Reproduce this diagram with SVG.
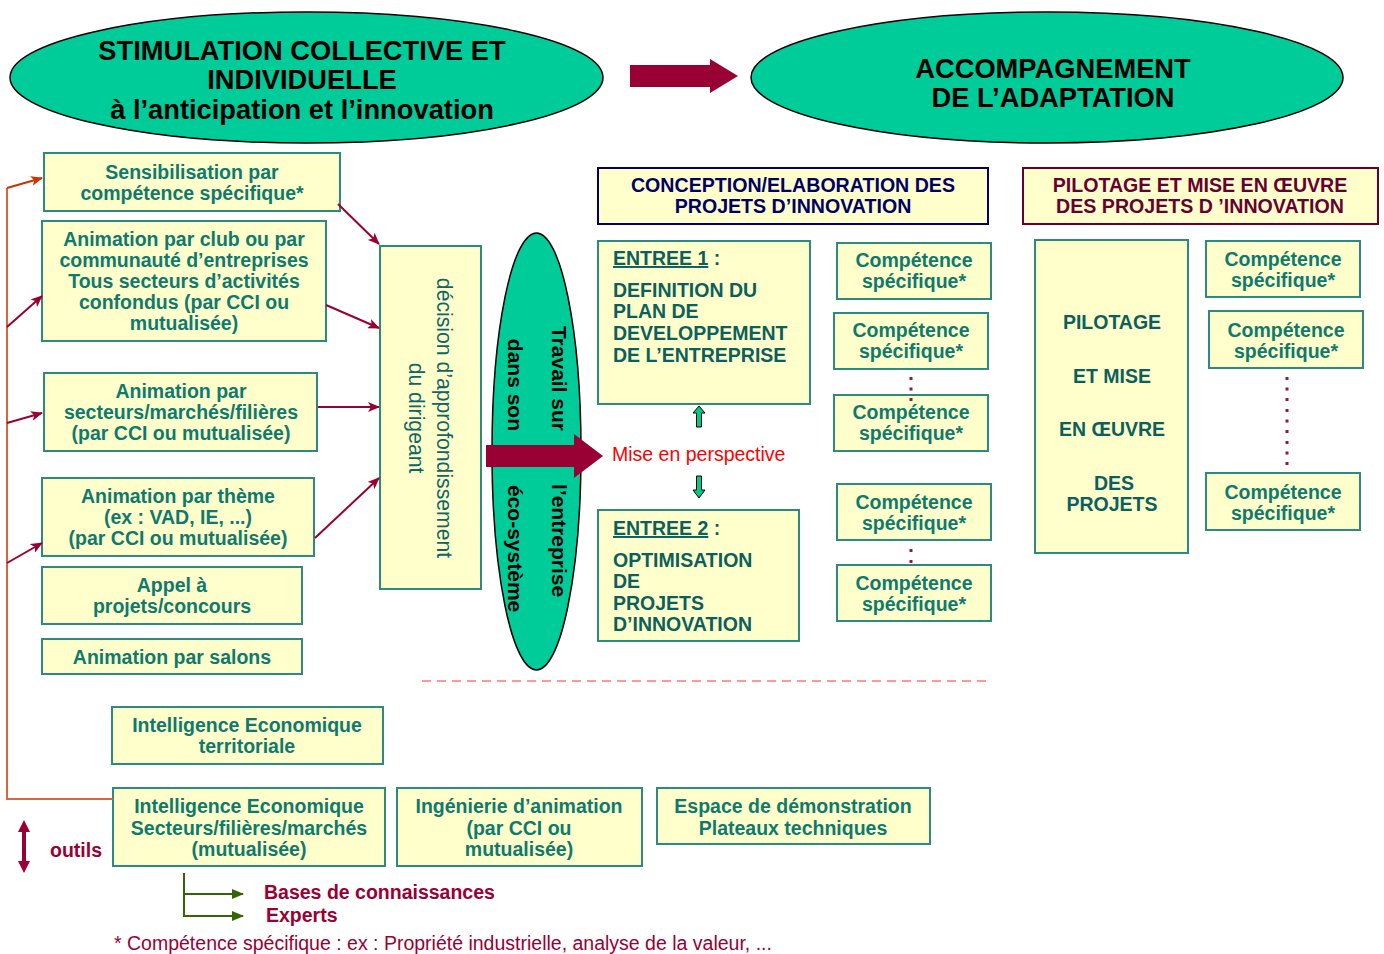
<svg xmlns="http://www.w3.org/2000/svg" width="1384" height="954" viewBox="0 0 1384 954">
<style>
text{font-family:"Liberation Sans",Arial,sans-serif}
.box{fill:#FFFFCC;stroke:#2E8A80;stroke-width:2}
.ell{fill:#00CC99;stroke:#000;stroke-width:1.5}
.title{font-weight:bold;font-size:27.3px;fill:#000;text-anchor:middle}
.t{font-weight:bold;font-size:19.5px;fill:#0E7A6E;text-anchor:middle}
.d{font-weight:bold;font-size:19.5px;fill:#0B5F5C}
.dm{font-weight:bold;font-size:19.5px;fill:#0B5F5C;text-anchor:middle}
.m{stroke:#990033;stroke-width:2;fill:none}
.o{stroke:#D9653B;stroke-width:2;fill:none}
.g{stroke:#336600;stroke-width:2;fill:none}
.dot{fill:#8B1A4A}
.tv{font-weight:bold;font-size:21px;fill:#000}
.hd{font-weight:bold;font-size:19.6px;text-anchor:middle}
</style>
<defs>
<marker id="am" viewBox="0 0 12 10" refX="11" refY="5" markerWidth="12" markerHeight="10" markerUnits="userSpaceOnUse" orient="auto"><path d="M0,0 L12,5 L0,10 L3,5 z" fill="#990033"/></marker>
<marker id="ao" viewBox="0 0 12 10" refX="11" refY="5" markerWidth="12" markerHeight="10" markerUnits="userSpaceOnUse" orient="auto"><path d="M0,0 L12,5 L0,10 L3,5 z" fill="#CC3300"/></marker>
<marker id="ag" viewBox="0 0 12 10" refX="11" refY="5" markerWidth="12" markerHeight="10" markerUnits="userSpaceOnUse" orient="auto"><path d="M0,0 L12,5 L0,10 z" fill="#336600"/></marker>
</defs>

<g id="stimulation">
<ellipse class="ell" cx="306.5" cy="77.5" rx="296.5" ry="65.5"/>
<text class="title" x="302" y="60">STIMULATION COLLECTIVE ET</text>
<text class="title" x="302" y="89">INDIVIDUELLE</text>
<text class="title" x="302" y="119">à l’anticipation et l’innovation</text>
</g>
<g id="accompagnement">
<ellipse class="ell" cx="1047" cy="77.5" rx="296" ry="65.5"/>
<text class="title" x="1053" y="78">ACCOMPAGNEMENT</text>
<text class="title" x="1053" y="107">DE L’ADAPTATION</text>
</g>
<g id="top-arrow">
<polygon points="630,65 710,65 710,59 738,76 710,93 710,87 630,87" fill="#990033"/>
</g>

<g id="sensibilisation">
<rect class="box" x="44" y="153" width="296" height="58"/>
<text class="t" x="192" y="179">Sensibilisation par</text>
<text class="t" x="192" y="200">compétence spécifique*</text>
</g>
<g id="club">
<rect class="box" x="42" y="221" width="284" height="120"/>
<text class="t" x="184" y="246">Animation par club ou par</text>
<text class="t" x="184" y="267">communauté d’entreprises</text>
<text class="t" x="184" y="288">Tous secteurs d’activités</text>
<text class="t" x="184" y="309">confondus (par CCI ou</text>
<text class="t" x="184" y="330">mutualisée)</text>
</g>
<g id="secteurs">
<rect class="box" x="44" y="373" width="273" height="78"/>
<text class="t" x="181" y="398">Animation par</text>
<text class="t" x="181" y="419">secteurs/marchés/filières</text>
<text class="t" x="181" y="440">(par CCI ou mutualisée)</text>
</g>
<g id="theme">
<rect class="box" x="42" y="478" width="272" height="78"/>
<text class="t" x="178" y="503">Animation par thème</text>
<text class="t" x="178" y="524">(ex : VAD, IE, ...)</text>
<text class="t" x="178" y="545">(par CCI ou mutualisée)</text>
</g>
<g id="appel">
<rect class="box" x="42" y="567" width="260" height="57"/>
<text class="t" x="172" y="592">Appel à</text>
<text class="t" x="172" y="613">projets/concours</text>
</g>
<g id="salons">
<rect class="box" x="42" y="639" width="260" height="35"/>
<text class="t" x="172" y="664">Animation par salons</text>
</g>

<g id="decision">
<rect class="box" x="380" y="246" width="101" height="343"/>
<text transform="translate(437,418) rotate(90)" text-anchor="middle" font-size="21.2" fill="#0E6666">décision d’approfondissement</text>
<text transform="translate(409,418) rotate(90)" text-anchor="middle" font-size="21.2" fill="#0E6666">du dirigeant</text>
</g>

<g id="travail">
<ellipse class="ell" cx="536.5" cy="451.5" rx="44.5" ry="218.5"/>
<text class="tv" transform="translate(552,431) rotate(90)" text-anchor="end">Travail sur</text>
<text class="tv" transform="translate(552,484) rotate(90)" text-anchor="start">l’entreprise</text>
<text class="tv" transform="translate(508,431) rotate(90)" text-anchor="end">dans son</text>
<text class="tv" transform="translate(508,485) rotate(90)" text-anchor="start">éco-système</text>
<polygon points="486,445 574,445 574,434 603,456 574,478 574,467 486,467" fill="#990033"/>
</g>

<g id="mise">
<text x="612" y="461" font-size="19.5" fill="#FF0000">Mise en perspective</text>
<polygon points="699,406 705,413 701.5,413 701.5,427 696.5,427 696.5,413 693,413" fill="#00CC88" stroke="#000" stroke-width="1"/>
<polygon points="696.5,476 701.5,476 701.5,490 705,490 699,498 693,490 696.5,490" fill="#00CC88" stroke="#000" stroke-width="1"/>
</g>

<g id="conception">
<rect x="598" y="168" width="390" height="56" fill="#FFFFCC" stroke="#000066" stroke-width="2"/>
<text class="hd" x="793" y="192" fill="#000066">CONCEPTION/ELABORATION DES</text>
<text class="hd" x="793" y="213" fill="#000066">PROJETS D’INNOVATION</text>
</g>

<g id="entree1">
<rect class="box" x="598" y="241" width="212" height="163"/>
<text class="d" x="613" y="265"><tspan text-decoration="underline">ENTREE 1</tspan> :</text>
<text class="d" x="613" y="297">DEFINITION DU</text>
<text class="d" x="613" y="318">PLAN DE</text>
<text class="d" x="613" y="340">DEVELOPPEMENT</text>
<text class="d" x="613" y="362">DE L’ENTREPRISE</text>
</g>
<g id="entree2">
<rect class="box" x="598" y="510" width="201" height="131"/>
<text class="d" x="613" y="535"><tspan text-decoration="underline">ENTREE 2</tspan> :</text>
<text class="d" x="613" y="567">OPTIMISATION</text>
<text class="d" x="613" y="588">DE</text>
<text class="d" x="613" y="610">PROJETS</text>
<text class="d" x="613" y="631">D’INNOVATION</text>
</g>

<g id="comp1">
<rect class="box" x="837" y="243" width="154" height="56"/>
<text class="t" x="914" y="267">Compétence</text>
<text class="t" x="914" y="288">spécifique*</text>
</g>
<g id="comp2">
<rect class="box" x="834" y="313" width="154" height="56"/>
<text class="t" x="911" y="337">Compétence</text>
<text class="t" x="911" y="358">spécifique*</text>
</g>
<g id="comp3">
<rect class="box" x="834" y="395" width="154" height="56"/>
<text class="t" x="911" y="419">Compétence</text>
<text class="t" x="911" y="440">spécifique*</text>
</g>
<g id="comp4">
<rect class="box" x="837" y="484" width="154" height="56"/>
<text class="t" x="914" y="509">Compétence</text>
<text class="t" x="914" y="530">spécifique*</text>
</g>
<g id="comp5">
<rect class="box" x="837" y="565" width="154" height="56"/>
<text class="t" x="914" y="590">Compétence</text>
<text class="t" x="914" y="611">spécifique*</text>
</g>
<g id="dots1">
<rect class="dot" x="909.5" y="377" width="3" height="3"/>
<rect class="dot" x="909.5" y="387.5" width="3" height="3"/>
<rect class="dot" x="909.5" y="398" width="3" height="3"/>
<rect class="dot" x="909.5" y="549" width="3" height="3"/>
<rect class="dot" x="909.5" y="560" width="3" height="3"/>
</g>

<g id="pilotage-header">
<rect x="1023" y="168" width="355" height="56" fill="#FFFFCC" stroke="#660033" stroke-width="2"/>
<text class="hd" x="1200" y="192" fill="#660033">PILOTAGE ET MISE EN ŒUVRE</text>
<text class="hd" x="1200" y="213" fill="#660033">DES PROJETS D ’INNOVATION</text>
</g>
<g id="pilotage">
<rect class="box" x="1035" y="240" width="153" height="313"/>
<text class="dm" x="1112" y="329">PILOTAGE</text>
<text class="dm" x="1112" y="383">ET MISE</text>
<text class="dm" x="1112" y="436">EN ŒUVRE</text>
<text class="dm" x="1114" y="490">DES</text>
<text class="dm" x="1112" y="511">PROJETS</text>
</g>
<g id="comp6">
<rect class="box" x="1206" y="241" width="154" height="56"/>
<text class="t" x="1283" y="266">Compétence</text>
<text class="t" x="1283" y="287">spécifique*</text>
</g>
<g id="comp7">
<rect class="box" x="1209" y="311" width="154" height="57"/>
<text class="t" x="1286" y="337">Compétence</text>
<text class="t" x="1286" y="358">spécifique*</text>
</g>
<g id="comp8">
<rect class="box" x="1206" y="473" width="154" height="57"/>
<text class="t" x="1283" y="499">Compétence</text>
<text class="t" x="1283" y="520">spécifique*</text>
</g>
<g id="dots2">
<rect class="dot" x="1285.5" y="377" width="3" height="3"/>
<rect class="dot" x="1285.5" y="387.5" width="3" height="3"/>
<rect class="dot" x="1285.5" y="398" width="3" height="3"/>
<rect class="dot" x="1285.5" y="409" width="3" height="3"/>
<rect class="dot" x="1285.5" y="419.5" width="3" height="3"/>
<rect class="dot" x="1285.5" y="430" width="3" height="3"/>
<rect class="dot" x="1285.5" y="441" width="3" height="3"/>
<rect class="dot" x="1285.5" y="451.5" width="3" height="3"/>
<rect class="dot" x="1285.5" y="462" width="3" height="3"/>
</g>

<g id="separator">
<line x1="422" y1="681" x2="988" y2="681" stroke="#FF3333" stroke-width="1.2" stroke-dasharray="9,6"/>
</g>

<g id="ie-territoriale">
<rect class="box" x="112" y="707" width="271" height="57"/>
<text class="t" x="247" y="732">Intelligence Economique</text>
<text class="t" x="247" y="753">territoriale</text>
</g>
<g id="ie-secteurs">
<rect class="box" x="113" y="788" width="272" height="78"/>
<text class="t" x="249" y="813">Intelligence Economique</text>
<text class="t" x="249" y="835">Secteurs/filières/marchés</text>
<text class="t" x="249" y="856">(mutualisée)</text>
</g>
<g id="ingenierie">
<rect class="box" x="397" y="788" width="245" height="78"/>
<text class="t" x="519" y="813">Ingénierie d’animation</text>
<text class="t" x="519" y="835">(par CCI ou</text>
<text class="t" x="519" y="856">mutualisée)</text>
</g>
<g id="espace">
<rect class="box" x="657" y="788" width="273" height="56"/>
<text class="t" x="793" y="813">Espace de démonstration</text>
<text class="t" x="793" y="835">Plateaux techniques</text>
</g>

<g id="outils">
<polygon points="24,820 30,832 26,832 26,861 30,861 24,873 18,861 22,861 22,832 18,832" fill="#990033"/>
<text x="50" y="857" font-weight="bold" font-size="19.5" fill="#990033">outils</text>
</g>

<g id="connectors">
<path class="o" d="M7,188 V799 H113"/>
<line x1="7" y1="188" x2="42" y2="178" stroke="#CC3300" stroke-width="2" marker-end="url(#ao)"/>
<line class="m" x1="7" y1="327" x2="42" y2="296" marker-end="url(#am)"/>
<line class="m" x1="7" y1="423" x2="42" y2="413" marker-end="url(#am)"/>
<line class="m" x1="7" y1="563" x2="42" y2="543" marker-end="url(#am)"/>
<line class="m" x1="338" y1="204" x2="379" y2="244" marker-end="url(#am)"/>
<line class="m" x1="326" y1="305" x2="379" y2="328" marker-end="url(#am)"/>
<line class="m" x1="318" y1="407" x2="379" y2="407" marker-end="url(#am)"/>
<line class="m" x1="315" y1="538" x2="379" y2="478" marker-end="url(#am)"/>
<path class="g" d="M184,873 V916 H243"/>
<line class="g" x1="184" y1="894" x2="243" y2="894" marker-end="url(#ag)"/>
<line class="g" x1="230" y1="916" x2="243" y2="916" marker-end="url(#ag)"/>
</g>

<g id="legend">
<text x="264" y="899" font-weight="bold" font-size="19.5" fill="#990033">Bases de connaissances</text>
<text x="266" y="922" font-weight="bold" font-size="19.5" fill="#990033">Experts</text>
<text x="114" y="950" font-size="19.5" fill="#990033">* Compétence spécifique : ex : Propriété industrielle, analyse de la valeur, ...</text>
</g>
</svg>
